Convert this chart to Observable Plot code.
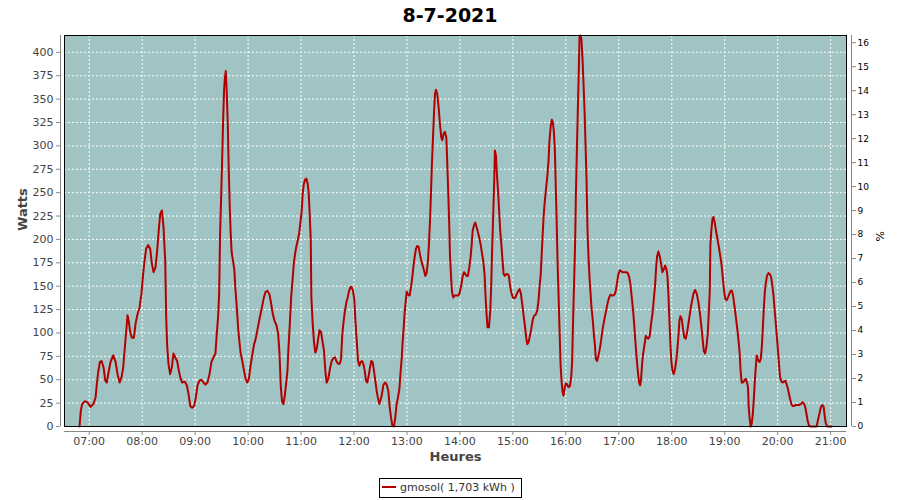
<!DOCTYPE html>
<html><head><meta charset="utf-8">
<script src="https://cdn.jsdelivr.net/npm/d3@7"></script>
<script src="https://cdn.jsdelivr.net/npm/@observablehq/plot@0.6"></script>
<style>
body{margin:0;background:#fff;width:900px;height:500px;overflow:hidden;font-family:"DejaVu Sans",sans-serif;position:relative}
#title{height:30px;line-height:30px;text-align:center;font-weight:bold;font-size:19px;color:#000}
#chart svg{display:block}
#legend{position:absolute;left:379px;top:478px;width:143px;height:20px;box-sizing:border-box;border:1px solid #000;font-size:11px;color:#333;line-height:18px;white-space:nowrap;overflow:hidden}
#legend .sw{display:inline-block;width:14px;height:2px;background:#b20000;vertical-align:middle;margin:0 4px 2px 2px}
</style></head><body>
<div id="title">8-7-2021</div>
<div id="chart"></div>
<div id="legend"><span class="sw"></span>gmosol( 1,703 kWh )</div>
<script>
// minutes after 07:00
const minutes = [
-11, -9.5, -8, -5, -2, 1.5, 4.6, 7.2, 8.7, 10.2,
12.1, 14, 16.3, 18.2, 20, 21.9, 24.2, 27.2, 29.9, 32.1,
34.4, 36.7, 38.5, 40.4, 42.3, 43.4, 44.9, 46.4, 48.3, 50.6,
52.5, 54.7, 57, 59.2, 60.8, 62.3, 64.5, 66.8, 69.1, 71,
72.9, 75.1, 77, 78.9, 80.4, 82.3, 84.2, 86.1, 87.2, 88.3,
89.8, 91.7, 93.6, 95.5, 97.4, 99.6, 101.1, 103, 105.3, 108.3,
110.6, 112.5, 114.4, 116.6, 118.9, 120.8, 122.7, 124.9, 127.2, 129.5,
131.7, 134, 136.3, 138.5, 140.8, 143, 144.5, 146, 147.2, 148.3,
149.4, 150.6, 151.7, 152.8, 153.6, 154.7, 155.9, 157, 158.1, 159.2,
160.3, 161.4, 162.9, 164.4, 165.5, 166.6, 167.8, 168.9, 170, 171.5,
173.4, 175.3, 177.2, 179.1, 180.9, 182.8, 184.7, 186.6, 188.9, 191.1,
193.4, 195.6, 197.9, 199.8, 202, 204.3, 206.2, 208.1, 210, 212.2,
214.1, 215.6, 217.1, 218.6, 220.1, 221.6, 223.1, 224.6, 225.8, 227.3,
228.8, 230.3, 231.8, 233.3, 234.8, 236.3, 237.8, 239.3, 240.8, 241.9,
243.1, 244.6, 246.1, 247.6, 248.7, 249.8, 251, 251.7, 253.2, 254.7,
256.2, 257.7, 259.2, 260.8, 262.6, 264.5, 266, 267.5, 269, 270.9,
272.8, 274.7, 276.6, 278.5, 280, 281.9, 283.8, 285.3, 286.8, 288.3,
289.8, 291.4, 292.9, 294.4, 295.9, 297.4, 298.9, 300.4, 301.6, 303.1,
304.6, 306.1, 307.6, 309.1, 310.6, 312.1, 313.6, 315.1, 316.6, 318.1,
319.6, 321.1, 322.6, 324.1, 325.7, 327.2, 328.7, 331.4, 333.2, 335.1,
337, 338.9, 340.4, 341.9, 343.4, 345.3, 346.8, 348.3, 349.8, 351.4,
352.9, 354, 355.1, 356.3, 357.4, 358.5, 359.7, 361.2, 363, 364.6,
366.1, 367.2, 368.7, 370.2, 371.7, 373.2, 374.7, 376.3, 377.8, 379.3,
380.8, 382.3, 383.8, 384.9, 386.1, 387.2, 388.3, 389.5, 390.6, 391.7,
392.9, 394.4, 395.9, 397.4, 398.9, 400, 401.5, 403, 404.6, 405.7,
406.8, 407.9, 408.7, 409.8, 411, 412.5, 414, 415.5, 417, 418.5,
420, 421.5, 423, 424.6, 426.1, 427.6, 429.1, 430.6, 432.1, 433.2,
434.4, 435.9, 437.4, 438.9, 440.4, 441.9, 443.4, 444.9, 446.4, 447.9,
449.1, 450.2, 451.3, 452.9, 454.4, 455.5, 456.6, 457.8, 458.9, 459.6,
460.8, 461.9, 463.4, 464.5, 465.7, 467.2, 468.3, 469.5, 471, 472.5,
474, 475.5, 477, 478.5, 480, 481.5, 483, 484.5, 486.1, 487.6,
489.1, 490.6, 492.1, 493.6, 495.1, 496.3, 497.8, 499.3, 500.8, 502.3,
503.8, 506.1, 507.6, 509.1, 510.2, 511.4, 512.5, 513.6, 514.8, 515.9,
517, 518.1, 519.3, 520.4, 521.5, 523, 524.2, 525.3, 526.4, 527.6,
528.7, 529.5, 530.6, 531.7, 532.9, 534, 535.1, 536.3, 537.4, 538.5,
540, 541.5, 543, 544.6, 546.1, 547.2, 548.3, 549.5, 550.6, 551.4,
552.5, 553.6, 554.7, 555.5, 556.6, 557.7, 558.9, 560, 561.2, 562.3,
563.4, 564.6, 565.7, 566.8, 568, 569.1, 570.6, 571.7, 572.9, 574,
575.5, 577, 578.5, 580, 581.5, 583, 584.6, 586.1, 587.6, 589.1,
590.6, 592.1, 593.6, 595.1, 596.6, 598.1, 599.6, 601.2, 602.7, 604.2,
605.7, 607.2, 608.7, 610.2, 611.7, 613.2, 614.7, 616.2, 617.4, 618.5,
619.6, 620.8, 621.9, 623, 624.2, 625.3, 626.4, 627.6, 629.1, 630.6,
632.1, 633.6, 635.1, 636.6, 638.1, 639.6, 641.2, 642.3, 643.4, 644.9,
646.4, 647.9, 649.4, 651, 652.5, 654, 655.1, 656.2, 657.4, 658.5,
659.6, 660.8, 662.3, 663.8, 665.3, 666.4, 667.6, 668.7, 669.8, 671.3,
672.8, 674.3, 675.9, 677.4, 678.9, 680.6, 682.3, 684.6, 686.4, 688.3,
690.2, 692.1, 694, 695.1, 696.3, 697.8, 699.3, 700.8, 701.9, 703.1,
703.8, 704.9, 706.1, 707.2, 708.7, 710.2, 711.7, 713.2, 714.7, 716.3,
717.8, 719.3, 720.8, 722.3, 723.8, 725.3, 726.8, 728.3, 729.8, 731.3,
732.9, 734.4, 735.9, 737, 738.1, 739.3, 740.8, 742.3, 743.8, 745.3,
746.4, 747.2, 748.3, 749.5, 750.6, 751.7, 752.9, 754, 755.1, 756.3,
757.4, 758.5, 759.6, 760.8, 761.9, 763, 764.2, 765.3, 766.4, 767.9,
769.5, 771, 772.5, 774, 775.5, 777, 778.1, 779.3, 780.4, 781.5,
782.7, 784.2, 785.7, 787.2, 788.7, 790.2, 791.7, 792.8, 794, 795.5,
797, 798.9, 800.8, 802.7, 804.5, 806.4, 808.3, 810.2, 811.7, 812.9,
814, 815.5, 817, 824.2, 825.3, 826.4, 827.6, 829.1, 830.6, 832.1,
833.2, 834.4, 835.9, 841.2
];
const watts = [
0, 17, 24, 27, 26, 21, 24, 31, 46, 58,
69, 70, 63, 49, 47, 58, 69, 76, 69, 56,
47, 53, 63, 85, 106, 119, 112, 101, 95, 95,
110, 120, 127, 142, 160, 174, 190, 194, 190, 174,
165, 170, 188, 211, 227, 231, 213, 177, 117, 87,
67, 56, 63, 78, 74, 70, 62, 53, 47, 48,
44, 35, 22, 20, 22, 31, 44, 49, 50, 47,
45, 47, 56, 69, 74, 78, 99, 117, 142, 206,
243, 284, 327, 360, 371, 380, 355, 323, 274, 236,
206, 186, 177, 168, 149, 135, 119, 103, 92, 79,
70, 60, 51, 47, 51, 65, 76, 87, 95, 106,
117, 127, 138, 144, 145, 141, 131, 120, 113, 108,
99, 78, 42, 26, 24, 33, 46, 60, 85, 110,
138, 156, 174, 185, 193, 199, 206, 218, 231, 249,
259, 264, 265, 259, 249, 227, 199, 138, 110, 90,
79, 83, 92, 103, 101, 90, 81, 60, 47, 51,
62, 70, 73, 74, 70, 67, 67, 72, 99, 113,
124, 133, 138, 145, 149, 149, 145, 135, 113, 92,
70, 65, 69, 70, 67, 60, 49, 47, 54, 63,
70, 69, 60, 49, 38, 30, 24, 33, 44, 47,
45, 38, 21, 10, 1, 0, 10, 24, 31, 40,
60, 72, 90, 106, 122, 133, 144, 141, 140, 149,
160, 170, 181, 190, 193, 192, 184, 177, 172, 167,
161, 164, 177, 195, 220, 249, 281, 309, 334, 355,
360, 355, 341, 323, 309, 306, 313, 315, 309, 281,
249, 216, 184, 163, 144, 138, 140, 140, 140, 140,
144, 151, 160, 165, 163, 161, 161, 170, 181, 193,
209, 215, 218, 213, 208, 202, 195, 186, 177, 163,
138, 120, 106, 106, 124, 152, 192, 229, 263, 295,
290, 270, 249, 229, 209, 192, 177, 163, 161, 163,
163, 161, 149, 142, 138, 137, 138, 142, 145, 147,
142, 131, 119, 108, 95, 88, 90, 97, 104, 113,
118, 120, 124, 135, 149, 161, 181, 202, 224, 238,
249, 259, 270, 284, 306, 322, 328, 325, 316, 295,
252, 224, 177, 142, 103, 67, 49, 37, 33, 40,
46, 45, 42, 43, 53, 70, 117, 158, 199, 247,
295, 338, 380, 416, 418, 414, 393, 368, 338, 302,
266, 209, 181, 160, 142, 127, 113, 99, 88, 72,
70, 76, 83, 92, 103, 111, 119, 126, 133, 138,
141, 140, 140, 141, 145, 154, 163, 167, 166, 165,
165, 165, 165, 164, 160, 152, 138, 124, 110, 95,
81, 67, 56, 47, 44, 51, 67, 78, 87, 97,
95, 94, 97, 110, 120, 135, 152, 170, 182, 187,
182, 174, 165, 168, 172, 168, 161, 142, 113, 88,
69, 60, 56, 62, 72, 83, 97, 113, 118, 115,
104, 95, 94, 101, 110, 121, 131, 142, 146, 142,
133, 120, 103, 92, 81, 78, 85, 99, 120, 145,
195, 210, 222, 224, 218, 209, 201, 193, 184, 174,
160, 145, 136, 135, 138, 142, 145, 145, 138, 127,
115, 103, 90, 78, 58, 47, 47, 49, 51, 47,
42, 21, 8, 0, 3, 12, 28, 46, 62, 76,
72, 70, 69, 72, 83, 101, 124, 142, 152, 161,
164, 163, 160, 151, 138, 120, 108, 94, 81, 67,
53, 48, 47, 48, 49, 45, 40, 35, 30, 24,
22, 22, 23, 23, 23, 24, 26, 24, 19, 12,
6, 1, 0, 0, 5, 10, 15, 21, 23, 21,
12, 4, 0, 0
];
const hourLabels = ["07:00","08:00","09:00","10:00","11:00","12:00","13:00","14:00","15:00","16:00","17:00","18:00","19:00","20:00","21:00"];
const wattTicks = [0,25,50,75,100,125,150,175,200,225,250,275,300,325,350,375,400];
const pctTicks = [0,1,2,3,4,5,6,7,8,9,10,11,12,13,14,15,16];
const xStartMin = -28, xEndMin = 858;   // axis range in minutes after 07:00
const yMax = 418, pctMax = 16.3;

const base = Date.UTC(2021, 6, 8, 7, 0);
const toDate = m => new Date(base + m * 60000);
const parseHM = s => { const [h, m] = s.split(":").map(Number); return new Date(Date.UTC(2021, 6, 8, h, m)); };
const n = Math.min(minutes.length, watts.length);
const data = d3.range(n).map(i => ({t: toDate(minutes[i]), w: watts[i]}));
const hourTicks = hourLabels.map(parseHM);
const x0 = toDate(xStartMin), x1 = toDate(xEndMin);

const gridStyle = {stroke: "#fff", strokeOpacity: 1, strokeWidth: 1, strokeDasharray: "2,2"};

const chart = Plot.plot({
  width: 900, height: 445,
  marginTop: 5, marginBottom: 49, marginLeft: 64, marginRight: 54,
  style: {fontFamily: "'DejaVu Sans', sans-serif", fontSize: "11px", background: "#fff", color: "#444"},
  x: {type: "utc", domain: [x0, x1], label: null},
  y: {domain: [0, yMax], label: null},
  marks: [
    Plot.frame({fill: "#9fc4c3", stroke: null}),
    Plot.gridX(hourTicks, gridStyle),
    Plot.gridY(wattTicks.filter(d => d > 0), gridStyle),
    Plot.line(data, {x: "t", y: "w", stroke: "#b20000", strokeWidth: 2}),
    Plot.frame({stroke: "#000", strokeWidth: 1}),
    Plot.ruleX([x0], {dx: -4, stroke: "#888"}),
    Plot.ruleX([x1], {dx: 5, stroke: "#888"}),
    Plot.ruleY([0], {dy: 5, stroke: "#888"}),
    Plot.axisY(wattTicks, {anchor: "left", tickSize: 4, tickPadding: 3, dx: -4, stroke: "#888", fill: "#444", fontSize: 11, label: null}),
    Plot.axisY(pctTicks.map(p => p * yMax / pctMax), {anchor: "right", tickSize: 4, tickPadding: 2, dx: 5, stroke: "#888", fill: "#000", fontSize: 9,
      tickFormat: d => String(Math.round(d * pctMax / yMax)), label: null}),
    Plot.axisX(hourTicks, {anchor: "bottom", tickSize: 4, tickPadding: 2, dy: 5, stroke: "#888", fill: "#444", fontSize: 11,
      tickFormat: d3.utcFormat("%H:%M"), label: null}),
    Plot.text(["Watts"], {text: d => d, frameAnchor: "left", dx: -42, rotate: -90, fontSize: 13, fontWeight: "bold", fill: "#444"}),
    Plot.text(["%"], {text: d => d, frameAnchor: "right", dx: 34, rotate: -90, fontSize: 11, fill: "#000"}),
    Plot.text(["Heures"], {text: d => d, frameAnchor: "bottom", dy: 34, fontSize: 13, fontWeight: "bold", fill: "#444"})
  ]
});
document.getElementById("chart").appendChild(chart);
</script>
</body></html>
